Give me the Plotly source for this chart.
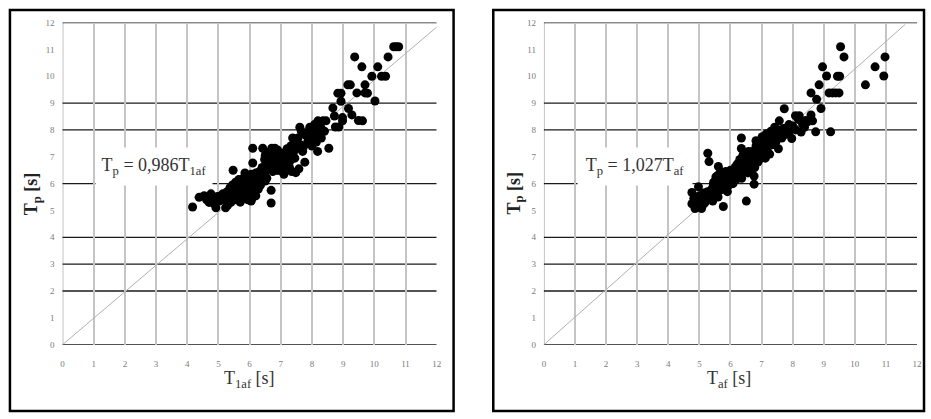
import plotly.graph_objects as go

# Peak period Tp against T1af (left) and Taf (right), seconds
left_x = [4.17, 4.38, 4.54, 4.62, 4.70, 4.76, 4.80, 4.86, 4.92, 4.97, 5.02, 5.08, 5.14, 5.23, 5.20,
          5.28, 5.33, 5.37, 5.40, 5.45, 5.50, 5.52, 5.55, 5.58, 5.60, 5.62, 5.65, 5.68, 5.70, 5.72,
          5.75, 5.78, 5.80, 5.83, 5.86, 5.88, 5.90, 5.93, 5.96, 5.98, 6.00, 6.03, 6.05, 6.08, 6.10,
          6.13, 6.15, 5.47, 6.10, 6.10, 6.20, 6.25, 6.28, 6.32, 6.35, 6.42, 6.40, 6.45, 6.48, 6.50,
          6.53, 6.55, 6.58, 6.60, 6.63, 6.66, 6.70, 6.71, 6.81, 6.69, 6.69, 6.74, 6.78, 6.82, 6.85,
          6.87, 6.90, 6.94, 6.98, 7.02, 7.05, 7.08, 7.12, 7.15, 7.20, 7.25, 7.28, 7.32, 7.35, 7.40,
          7.43, 7.48, 7.50, 7.55, 7.58, 7.61, 7.62, 7.66, 7.70, 7.77, 7.80, 7.85, 7.90, 7.93, 7.96,
          8.00, 8.03, 8.06, 8.10, 8.14, 8.18, 8.19, 8.22, 8.26, 8.30, 8.35, 8.40, 8.45, 8.54, 8.67,
          8.72, 8.75, 8.86, 8.83, 8.93, 8.93, 8.98, 8.98, 9.15, 9.23, 9.17, 9.28, 9.37, 9.44, 9.49,
          9.60, 9.62, 9.70, 9.70, 9.78, 9.92, 10.02, 10.11, 10.23, 10.36, 10.44, 10.62, 10.70, 10.78,
          5.95, 6.20, 6.35, 6.55, 6.62, 6.75, 6.92, 7.05, 7.18, 7.30, 7.45, 7.68, 7.88, 8.08, 8.28,
          5.10, 5.30, 5.85, 6.05, 6.50, 6.90, 7.10, 7.38, 7.72, 8.12]
left_y = [5.13, 5.49, 5.55, 5.40, 5.30, 5.62, 5.45, 5.25, 5.10, 5.52, 5.35, 5.55, 5.62, 5.10, 5.40,
          5.70, 5.50, 5.85, 5.30, 5.95, 5.60, 5.85, 6.05, 5.40, 5.75, 6.00, 6.15, 5.55, 5.31, 5.90,
          6.10, 5.65, 6.20, 5.95, 5.50, 6.25, 6.05, 5.80, 6.30, 5.60, 6.10, 5.90, 6.35, 5.45, 6.20,
          5.70, 6.00, 6.50, 7.32, 6.77, 6.40, 6.10, 5.80, 6.45, 6.25, 7.32, 6.60, 6.30, 6.90, 7.05,
          6.50, 6.75, 7.15, 6.55, 6.85, 7.00, 6.65, 7.32, 7.32, 5.75, 5.28, 6.45, 6.90, 6.70, 6.50,
          6.95, 7.10, 6.80, 6.60, 7.00, 6.45, 6.75, 7.15, 6.90, 7.30, 7.05, 6.60, 7.40, 6.45, 7.15,
          7.55, 6.41, 7.30, 7.70, 6.55, 8.10, 7.45, 7.95, 7.20, 6.80, 7.80, 7.50, 7.95, 8.10, 7.65,
          7.40, 8.00, 7.75, 7.90, 7.55, 7.20, 8.34, 7.85, 8.05, 7.70, 8.34, 7.95, 8.34, 7.32, 8.82,
          8.52, 8.11, 8.11, 9.37, 9.37, 9.07, 8.46, 8.34, 9.68, 9.68, 8.80, 8.56, 10.72, 9.38, 8.35,
          10.35, 8.34, 9.68, 9.38, 9.37, 10.00, 9.08, 10.35, 10.00, 10.00, 10.72, 11.10, 11.10, 11.10,
          5.40, 5.55, 5.95, 6.20, 6.95, 7.20, 6.50, 6.65, 6.70, 6.85, 6.95, 7.35, 7.60, 8.20, 8.10,
          5.50, 5.20, 6.40, 5.35, 6.10, 7.25, 6.35, 7.70, 7.35, 8.20]

right_x = [4.76, 4.76, 4.82, 4.86, 4.90, 4.97, 5.00, 5.03, 5.07, 5.10, 5.14, 5.18, 5.22, 5.27, 5.31,
           5.26, 5.30, 5.35, 5.40, 5.43, 5.46, 5.50, 5.53, 5.56, 5.60, 5.61, 5.63, 5.66, 5.70, 5.72,
           5.75, 5.77, 5.78, 5.82, 5.85, 5.88, 5.92, 5.95, 5.98, 6.02, 6.05, 6.08, 6.12, 6.15, 6.18,
           6.22, 6.25, 6.28, 6.32, 6.35, 6.35, 6.36, 6.40, 6.43, 6.46, 6.50, 6.51, 6.53, 6.56, 6.60,
           6.63, 6.66, 6.70, 6.73, 6.76, 6.76, 6.78, 6.82, 6.85, 6.88, 6.92, 6.95, 6.98, 7.02, 7.05,
           7.08, 7.12, 7.15, 7.18, 7.22, 7.26, 7.30, 7.34, 7.38, 7.42, 7.46, 7.50, 7.54, 7.57, 7.60,
           7.65, 7.70, 7.73, 7.78, 7.84, 7.90, 7.97, 8.00, 8.09, 8.10, 8.21, 8.26, 8.27, 8.32, 8.42,
           8.48, 8.59, 8.64, 8.74, 9.22, 8.59, 8.77, 8.91, 8.85, 8.96, 9.09, 9.44, 9.51, 9.17, 9.28,
           9.38, 9.49, 9.54, 9.65, 10.34, 10.65, 10.97, 10.93,
           5.45, 5.58, 5.68, 5.90, 6.00, 6.20, 6.30, 6.45, 6.58, 6.68, 6.90, 7.00, 7.10, 7.25, 7.40,
           7.55, 7.70, 7.88, 8.05, 8.18, 4.95, 5.15, 5.85, 6.40, 6.82, 7.20, 7.62, 8.38]
right_y = [5.67, 5.25, 5.45, 5.07, 5.30, 5.88, 5.55, 5.20, 5.07, 5.40, 5.65, 5.30, 5.50, 7.13, 6.82,
           5.70, 5.45, 5.60, 5.80, 5.35, 6.05, 5.65, 6.25, 5.90, 5.50, 6.64, 6.10, 5.75, 6.30, 5.95,
           6.15, 5.15, 5.80, 6.35, 6.05, 6.20, 5.90, 6.40, 6.10, 6.25, 6.50, 6.00, 6.35, 6.60, 6.15,
           6.45, 6.75, 6.30, 6.55, 7.70, 7.31, 6.20, 6.85, 6.45, 7.10, 6.65, 5.35, 6.95, 6.40, 6.75,
           7.00, 6.55, 7.20, 6.85, 5.98, 6.28, 6.60, 7.40, 7.05, 6.80, 7.25, 7.50, 6.95, 7.75, 7.15,
           7.45, 6.95, 7.85, 7.30, 7.60, 7.10, 7.95, 7.45, 7.75, 8.10, 7.55, 7.85, 7.30, 8.34, 7.95,
           7.70, 8.05, 8.79, 7.85, 8.10, 7.95, 7.68, 8.15, 8.53, 8.00, 8.53, 8.35, 7.92, 8.20, 8.35,
           8.30, 8.56, 8.34, 7.93, 7.93, 9.38, 9.14, 8.80, 9.68, 10.35, 10.01, 10.00, 10.00, 9.38, 9.38,
           9.38, 9.38, 11.10, 10.72, 9.68, 10.35, 10.72, 10.01,
           5.95, 6.30, 6.45, 5.70, 6.50, 6.70, 6.90, 6.75, 7.20, 6.90, 7.10, 7.30, 7.55, 7.80, 7.65,
           8.00, 7.80, 8.20, 8.05, 8.40, 5.40, 5.25, 6.45, 7.05, 7.60, 7.70, 7.85, 8.10]

# Fitted relations Tp = k * T
left_slope = 0.986
right_slope = 1.027
left_line_x = [0, 12.0]
right_line_x = [0, 11.62]

ticks = list(range(0, 13))
hline_levels = [0, 2, 3, 4, 6, 8, 9, 12]

W, H = 931, 419
SERIF = "Liberation Serif"


def px(v):
    return v / W


def py(v):
    return 1 - v / H


fig = go.Figure()

panels = [
    ("x", "y", left_x, left_y, left_slope, left_line_x),
    ("x2", "y2", right_x, right_y, right_slope, right_line_x),
]
for xa, ya, xs, ys, k, lx in panels:
    fig.add_trace(go.Scatter(
        x=lx, y=[k * v for v in lx], mode="lines",
        line=dict(color="#b0b0b0", width=1), xaxis=xa, yaxis=ya,
        showlegend=False, hoverinfo="skip"))
    fig.add_trace(go.Scatter(
        x=xs, y=ys, mode="markers",
        marker=dict(color="black", size=9, line=dict(width=0)),
        xaxis=xa, yaxis=ya, showlegend=False))

axis_common = dict(
    range=[0, 12], tickvals=ticks, showgrid=True, gridcolor="#c4c4c4", gridwidth=2,
    zeroline=False, showline=False, ticks="",
    tickfont=dict(family=SERIF, size=9, color="#7a7a7a"))

y_dom = [py(348), py(18)]
fig.update_layout(
    width=W, height=H, margin=dict(l=0, r=0, t=0, b=0),
    paper_bgcolor="white", plot_bgcolor="white",
    xaxis=dict(domain=[px(61), px(438)], anchor="y", ticklabelstandoff=12, **axis_common),
    yaxis=dict(domain=y_dom, anchor="x", ticklabelstandoff=7, **axis_common),
    xaxis2=dict(domain=[px(546), px(922)], anchor="y2", ticklabelstandoff=12, **axis_common),
    yaxis2=dict(domain=y_dom, anchor="x2", ticklabelstandoff=7, **axis_common),
)
fig.update_yaxes(showgrid=False)

shapes = []
for xa, ya in [("x", "y"), ("x2", "y2")]:
    # y axis line in grid grey, then the dark horizontal rules
    shapes.append(dict(type="line", xref=xa, yref=ya, x0=0, x1=0, y0=0, y1=12,
                       line=dict(color="#c4c4c4", width=2), layer="below"))
    for lv in hline_levels:
        shapes.append(dict(type="line", xref=xa, yref=ya, x0=-0.12, x1=12, y0=lv, y1=lv,
                           line=dict(color="#1a1a1a", width=1.3), layer="below"))

# Panel frames
for x0, x1 in [(8, 455), (495, 929)]:
    shapes.append(dict(type="rect", xref="paper", yref="paper",
                       x0=px(x0), x1=px(x1), y0=py(416), y1=py(5),
                       line=dict(color="black", width=2.5), fillcolor="rgba(0,0,0,0)"))
fig.update_layout(shapes=shapes)

annotations = [
    dict(text="T<sub>p</sub> = 0,986T<sub>1af</sub>", xref="x", yref="y", x=2.93, y=6.65,
         width=116, height=37, bgcolor="white", borderpad=0,
         font=dict(family=SERIF, size=18, color="#333333")),
    dict(text="T<sub>p</sub> = 1,027T<sub>af</sub>", xref="x2", yref="y2", x=2.93, y=6.65,
         width=114, height=37, bgcolor="white", borderpad=0,
         font=dict(family=SERIF, size=18, color="#333333")),
    dict(text="<b>T<sub>p</sub> [s]</b>", xref="paper", yref="paper", x=px(31), y=py(193),
         textangle=-90, font=dict(family=SERIF, size=18, color="#222222")),
    dict(text="<b>T<sub>p</sub> [s]</b>", xref="paper", yref="paper", x=px(517), y=py(193),
         textangle=-90, font=dict(family=SERIF, size=18, color="#222222")),
    dict(text="T<sub>1af</sub> [s]", xref="paper", yref="paper", x=px(249), y=py(384),
         font=dict(family=SERIF, size=18, color="#333333")),
    dict(text="T<sub>af</sub> [s]", xref="paper", yref="paper", x=px(733), y=py(384),
         font=dict(family=SERIF, size=18, color="#333333")),
]
for a in annotations:
    a.setdefault("showarrow", False)
    a.setdefault("xanchor", "center")
    a.setdefault("yanchor", "middle")
fig.update_layout(annotations=annotations)

fig.write_html("out.html")
